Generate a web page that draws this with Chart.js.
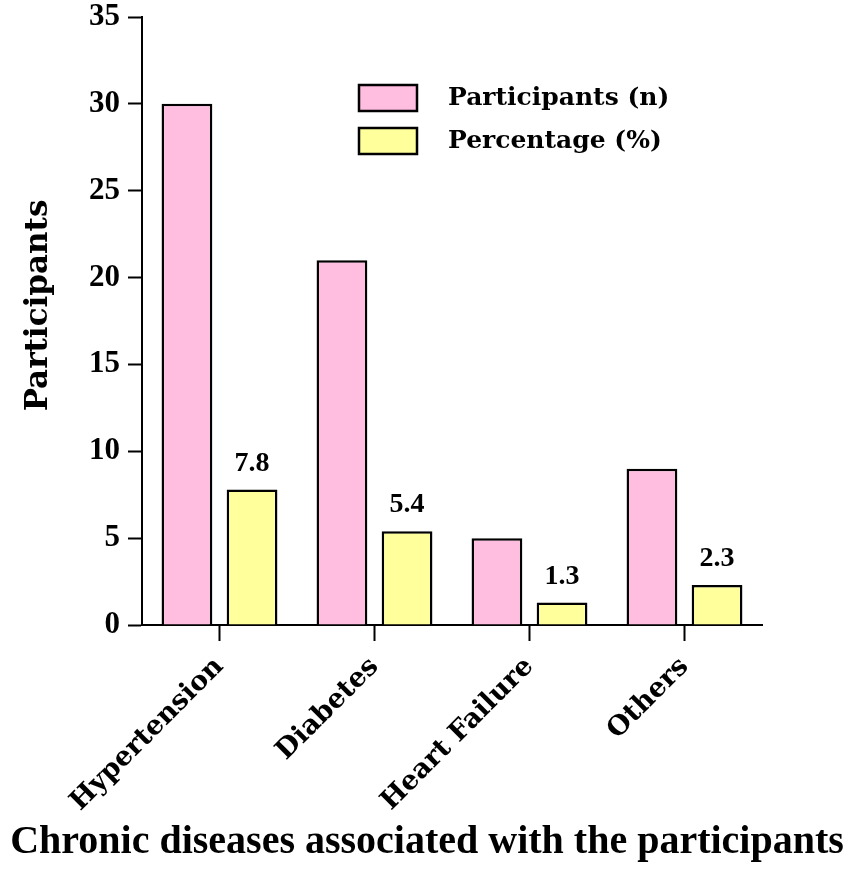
<!DOCTYPE html>
<html>
<head>
<meta charset="utf-8">
<script src="https://cdn.jsdelivr.net/npm/chart.js@4.4.1/dist/chart.umd.min.js"></script>
<style>
  html, body { margin: 0; padding: 0; background: #fff; }
  #wrap { width: 850px; height: 873px; }
</style>
</head>
<body>
<div id="wrap"><canvas id="chart"></canvas></div>
<script>
// values
const categories = ['Hypertension', 'Diabetes', 'Heart Failure', 'Others'];
const participants = [30, 21, 5, 9];
const percentage = [7.8, 5.4, 1.3, 2.3];
const seriesLabels = ['Participants (n)', 'Percentage (%)'];
const yTicks = [0, 5, 10, 15, 20, 25, 30, 35];
const xTitle = 'Chronic diseases associated with the participants';

const SERIF = "'Liberation Serif', 'Times New Roman', serif";
const WIDE = "'DejaVu Serif', 'Liberation Serif', serif";

// legend drawn inside the plot, upper right
const innerLegend = {
  id: 'innerLegend',
  afterDraw(chart) {
    const { ctx, chartArea } = chart;
    const x0 = chartArea.left + 217;
    let y0 = chartArea.top + 68;
    ctx.save();
    ctx.font = 'bold 25px ' + WIDE;
    ctx.textBaseline = 'middle';
    ctx.textAlign = 'left';
    chart.data.datasets.forEach(function (ds) {
      ctx.fillStyle = ds.backgroundColor;
      ctx.strokeStyle = '#000';
      ctx.lineWidth = 2.5;
      ctx.fillRect(x0, y0, 58, 26);
      ctx.strokeRect(x0, y0, 58, 26);
      ctx.fillStyle = '#000';
      ctx.fillText(ds.label, x0 + 89, y0 + 13);
      y0 += 43;
    });
    ctx.restore();
  }
};

// value labels above the percentage bars
const barValues = {
  id: 'barValues',
  afterDatasetsDraw(chart) {
    const { ctx } = chart;
    const meta = chart.getDatasetMeta(1);
    ctx.save();
    ctx.font = 'bold 28px ' + SERIF;
    ctx.fillStyle = '#000';
    ctx.textAlign = 'center';
    ctx.textBaseline = 'bottom';
    meta.data.forEach(function (bar, i) {
      ctx.fillText(percentage[i].toFixed(1), bar.x, bar.y - 12);
    });
    ctx.restore();
  }
};

// x title is wider than the plot, so Chart.js' scale title would squeeze it
const wideXTitle = {
  id: 'wideXTitle',
  afterDraw(chart) {
    const { ctx, width, height } = chart;
    ctx.save();
    ctx.font = 'bold 40px ' + SERIF;
    ctx.fillStyle = '#000';
    ctx.textAlign = 'center';
    ctx.textBaseline = 'alphabetic';
    ctx.fillText(xTitle, width / 2 + 2, height - 20, 836);
    ctx.restore();
  }
};

new Chart(document.getElementById('chart'), {
  type: 'bar',
  data: {
    labels: categories,
    datasets: [{
      label: seriesLabels[0],
      data: participants,
      backgroundColor: '#FFBDE0',
      borderColor: '#000',
      borderWidth: 2.5,
      borderSkipped: 'bottom'
    }, {
      label: seriesLabels[1],
      data: percentage,
      backgroundColor: '#FFFF9C',
      borderColor: '#000',
      borderWidth: 2.5,
      borderSkipped: 'bottom'
    }]
  },
  options: {
    responsive: true,
    maintainAspectRatio: false,
    animation: false,
    datasets: {
      bar: {
        categoryPercentage: 0.84,
        barPercentage: 0.78
      }
    },
    layout: {
      padding: { top: 17, right: 88, bottom: 0, left: 0 }
    },
    plugins: {
      legend: { display: false },
      tooltip: { enabled: false }
    },
    scales: {
      x: {
        offset: true,
        afterFit: function (scale) { scale.height = 248; },
        grid: {
          offset: false,
          drawOnChartArea: false,
          drawTicks: true,
          tickLength: 16,
          tickWidth: 2,
          tickColor: '#000'
        },
        border: { display: true, color: '#000', width: 2 },
        ticks: {
          autoSkip: false,
          minRotation: 45,
          maxRotation: 45,
          padding: 10,
          color: '#000',
          font: { family: WIDE, size: 27, weight: 'bold' }
        }
      },
      y: {
        min: 0,
        max: 35,
        afterFit: function (scale) {
          scale.width = 142;
          scale.paddingTop = 0;
          scale.paddingBottom = 0;
        },
        afterBuildTicks: function (scale) {
          scale.ticks = yTicks.map(function (v) { return { value: v }; });
        },
        grid: {
          drawOnChartArea: false,
          drawTicks: true,
          tickLength: 14,
          tickWidth: 2,
          tickColor: '#000'
        },
        border: { display: true, color: '#000', width: 2 },
        ticks: {
          padding: 8,
          color: '#000',
          font: { family: SERIF, size: 31, weight: 'bold' }
        },
        title: {
          display: true,
          text: '\u2003Participants',
          color: '#000',
          font: { family: WIDE, size: 31, weight: 'bold' },
          padding: { top: 20, bottom: 8 }
        }
      }
    }
  },
  plugins: [innerLegend, barValues, wideXTitle]
});
</script>
</body>
</html>
